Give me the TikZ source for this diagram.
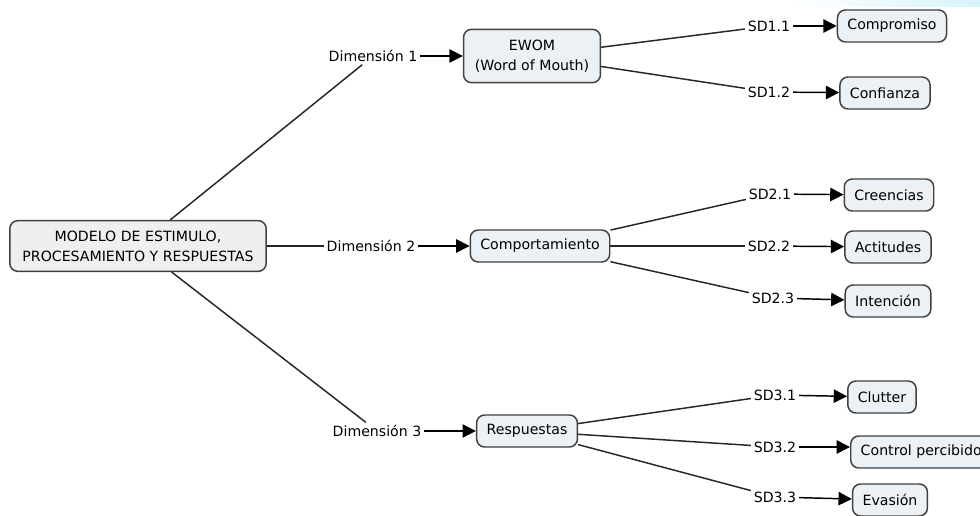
\documentclass[tikz,border=0pt]{standalone}
\usepackage{fontspec}
\setmainfont{DejaVu Sans}
\usetikzlibrary{arrows.meta}

\definecolor{conceptfill}{HTML}{EBF1F5}
\definecolor{rootfill}{HTML}{EFEFEF}
\definecolor{bandcyan}{HTML}{D6F3FA}

\begin{document}
\begin{tikzpicture}[x=0.75pt, y=-0.75pt, font=\fontsize{10.6}{15}\selectfont]
        \tikzstyle{concept} = [rectangle, draw=black!75, line width=1.1pt, fill=conceptfill, rounded corners=6pt, inner xsep=7.5pt, minimum height=24pt, align=center]
        \tikzstyle{root} = [concept, fill=rootfill, inner xsep=9.5pt, minimum height=38pt]
        \tikzstyle{link} = [inner sep=2pt]
        \tikzstyle{line} = [draw=black!85, line width=1.1pt]
        \tikzstyle{arrow} = [draw, line width=1.1pt, -{Triangle[length=10pt,width=10pt]}]

        \useasboundingbox (0,0) rectangle (980,516);
        \shade [left color=white, right color=bandcyan] (790,0) rectangle (980,7);

        % main concept and dimensions
        \node [root] (modelo) at (138,246) {MODELO DE ESTIMULO,\\PROCESAMIENTO Y RESPUESTAS};
        \node [link] (dim1) at (373,56) {Dimensión 1};
        \node [concept, inner xsep=8.5pt, minimum height=40pt] (ewom) at (532,56) {EWOM\\(Word of Mouth)};
        \node [link] (dim2) at (371,246) {Dimensión 2};
        \node [concept] (comp) at (540,246) {Comportamiento};
        \node [link] (dim3) at (377,431) {Dimensión 3};
        \node [concept] (resp) at (527,431) {Respuestas};

        % sub dimensions
        \node [link] (sd11) at (769,26) {SD1.1};
        \node [concept] (compromiso) at (892,26) {Compromiso};
        \node [link] (sd12) at (769,92) {SD1.2};
        \node [concept] (confianza) at (885,93) {Confianza};

        \node [link] (sd21) at (770,194) {SD2.1};
        \node [concept] (creencias) at (889,195) {Creencias};
        \node [link] (sd22) at (769,246) {SD2.2};
        \node [concept] (actitudes) at (888,247) {Actitudes};
        \node [link] (sd23) at (773,298) {SD2.3};
        \node [concept] (intencion) at (888,301) {Intención};

        \node [link] (sd31) at (775,395) {SD3.1};
        \node [concept] (clutter) at (882,397) {Clutter};
        \node [link] (sd32) at (775,447) {SD3.2};
        \node [concept, anchor=west] (control) at (850,452) {Control percibido};
        \node [link] (sd33) at (775,497) {SD3.3};
        \node [concept] (evasion) at (890,500) {Evasión};

        \path [line] (modelo) -- (dim1);
        \path [line] (modelo) -- (dim2);
        \path [line] (modelo) -- (dim3);
        \path [arrow] (dim1) -- (ewom);
        \path [arrow] (dim2) -- (comp);
        \path [arrow] (dim3) -- (resp);

        \path [line] (ewom) -- (sd11);
        \path [line] (ewom) -- (sd12);
        \path [line] (comp) -- (sd21);
        \path [line] (comp) -- (sd22);
        \path [line] (comp) -- (sd23);
        \path [line] (resp) -- (sd31);
        \path [line] (resp) -- (sd32);
        \path [line] (resp) -- (sd33);

        \path [arrow] (sd11) -- (compromiso);
        \path [arrow] (sd12) -- (confianza);
        \path [arrow] (sd21) -- (creencias);
        \path [arrow] (sd22) -- (actitudes);
        \path [arrow] (sd23) -- (intencion);
        \path [arrow] (sd31) -- (clutter);
        \path [arrow] (sd32) -- (sd32 -| control.west);
        \path [arrow] (sd33) -- (evasion);
\end{tikzpicture}
\end{document}
